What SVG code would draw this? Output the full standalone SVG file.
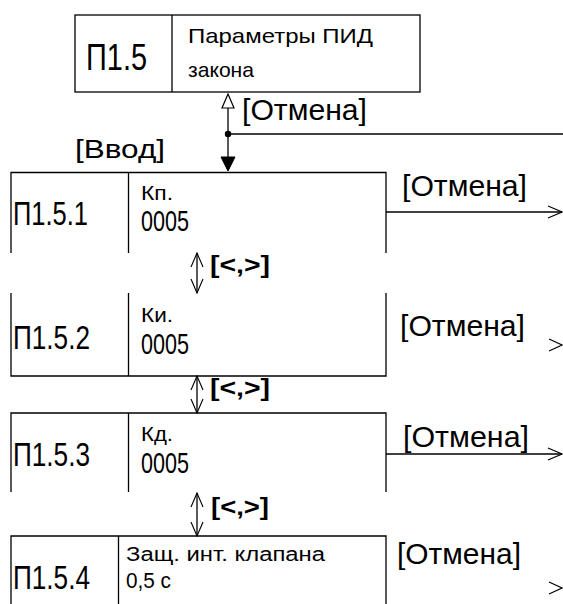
<svg xmlns="http://www.w3.org/2000/svg" width="563" height="604" viewBox="0 0 563 604">
<style>
.ln{fill:none;stroke:#000;stroke-width:1.3}
.t{font-family:"Liberation Sans",Arial,sans-serif;fill:#000}
.b{font-weight:bold}
</style>
<defs>
<marker id="open" viewBox="0 0 16 14" refX="15" refY="7" markerWidth="16" markerHeight="14" markerUnits="userSpaceOnUse" orient="auto-start-reverse">
<polyline points="1,1 15,7 1,13" fill="none" stroke="#000" stroke-width="1.1"/>
</marker>
</defs>
<rect width="563" height="604" fill="#fff"/>

<g id="n15">
<rect class="ln" x="75" y="15" width="345" height="77"/>
<line class="ln" x1="172" y1="15" x2="172" y2="92"/>
<text class="t" x="86" y="70" font-size="37" textLength="61" lengthAdjust="spacingAndGlyphs">П1.5</text>
<text class="t" x="188" y="43" font-size="21" textLength="185" lengthAdjust="spacingAndGlyphs">Параметры ПИД</text>
<text class="t" x="188" y="77" font-size="21" textLength="66" lengthAdjust="spacingAndGlyphs">закона</text>
</g>

<g id="n151">
<polyline class="ln" points="11,253 11,172.5 386,172.5 386,253"/>
<line class="ln" x1="128.5" y1="172.5" x2="128.5" y2="253"/>
<text class="t" x="13" y="225" font-size="33" textLength="75" lengthAdjust="spacingAndGlyphs">П1.5.1</text>
<text class="t" x="141" y="200" font-size="21" textLength="32" lengthAdjust="spacingAndGlyphs">Кп.</text>
<text class="t" x="141" y="231" font-size="30" textLength="48" lengthAdjust="spacingAndGlyphs">0005</text>
</g>

<g id="n152">
<polyline class="ln" points="11,293 11,376 386,376 386,293"/>
<line class="ln" x1="128.5" y1="293" x2="128.5" y2="376"/>
<text class="t" x="13" y="349" font-size="33" textLength="77" lengthAdjust="spacingAndGlyphs">П1.5.2</text>
<text class="t" x="141" y="322" font-size="21" textLength="32" lengthAdjust="spacingAndGlyphs">Ки.</text>
<text class="t" x="141" y="354" font-size="30" textLength="48" lengthAdjust="spacingAndGlyphs">0005</text>
</g>

<g id="n153">
<polyline class="ln" points="11,492 11,413 386,413 386,492"/>
<line class="ln" x1="128.5" y1="413" x2="128.5" y2="492"/>
<text class="t" x="13" y="466" font-size="33" textLength="77" lengthAdjust="spacingAndGlyphs">П1.5.3</text>
<text class="t" x="141" y="441" font-size="21" textLength="32" lengthAdjust="spacingAndGlyphs">Кд.</text>
<text class="t" x="141" y="473" font-size="30" textLength="48" lengthAdjust="spacingAndGlyphs">0005</text>
</g>

<g id="n154">
<polyline class="ln" points="11,604 11,536 386,536 386,604"/>
<line class="ln" x1="118.5" y1="536" x2="118.5" y2="604"/>
<text class="t" x="13" y="589" font-size="33" textLength="77" lengthAdjust="spacingAndGlyphs">П1.5.4</text>
<text class="t" x="126" y="561" font-size="20" textLength="199" lengthAdjust="spacingAndGlyphs">Защ. инт. клапана</text>
<text class="t" x="126" y="588" font-size="22" textLength="45" lengthAdjust="spacingAndGlyphs">0,5 с</text>
</g>

<g id="connectors">
<line class="ln" x1="228" y1="106" x2="228" y2="158"/>
<polygon points="228,94 222,108 234,108" fill="#fff" stroke="#000" stroke-width="1.2"/>
<circle cx="228" cy="134" r="3.2" fill="#000"/>
<line class="ln" x1="228" y1="134" x2="563" y2="134"/>
<polygon points="228,171 221,157 235,157" fill="#000" stroke="#000" stroke-width="1"/>
<text class="t" x="242" y="120" font-size="30" textLength="125" lengthAdjust="spacingAndGlyphs">[Отмена]</text>
<text class="t" x="75" y="158" font-size="25" textLength="90" lengthAdjust="spacingAndGlyphs">[Ввод]</text>

<line class="ln" x1="386" y1="212" x2="562" y2="212" marker-end="url(#open)"/>
<text class="t" x="402" y="196" font-size="30" textLength="125" lengthAdjust="spacingAndGlyphs">[Отмена]</text>

<polyline points="549,339 562,345 549,351" fill="none" stroke="#000" stroke-width="1.1"/>
<text class="t" x="400" y="336" font-size="30" textLength="125" lengthAdjust="spacingAndGlyphs">[Отмена]</text>

<line class="ln" x1="386" y1="454" x2="562" y2="454" marker-end="url(#open)"/>
<text class="t" x="403" y="447" font-size="30" textLength="126" lengthAdjust="spacingAndGlyphs">[Отмена]</text>

<polyline points="549,582 562,588 549,594" fill="none" stroke="#000" stroke-width="1.1"/>
<text class="t" x="397" y="564" font-size="30" textLength="124" lengthAdjust="spacingAndGlyphs">[Отмена]</text>

<line class="ln" x1="197" y1="253" x2="197" y2="293" marker-start="url(#open)" marker-end="url(#open)"/>
<text class="t b" x="210" y="273" font-size="23" textLength="60" lengthAdjust="spacingAndGlyphs">[&lt;,&gt;]</text>

<line class="ln" x1="197" y1="376" x2="197" y2="413" marker-start="url(#open)" marker-end="url(#open)"/>
<text class="t b" x="210" y="396" font-size="23" textLength="60" lengthAdjust="spacingAndGlyphs">[&lt;,&gt;]</text>

<line class="ln" x1="197" y1="493" x2="197" y2="536" marker-start="url(#open)" marker-end="url(#open)"/>
<text class="t b" x="211" y="515" font-size="23" textLength="58" lengthAdjust="spacingAndGlyphs">[&lt;,&gt;]</text>
</g>
</svg>
